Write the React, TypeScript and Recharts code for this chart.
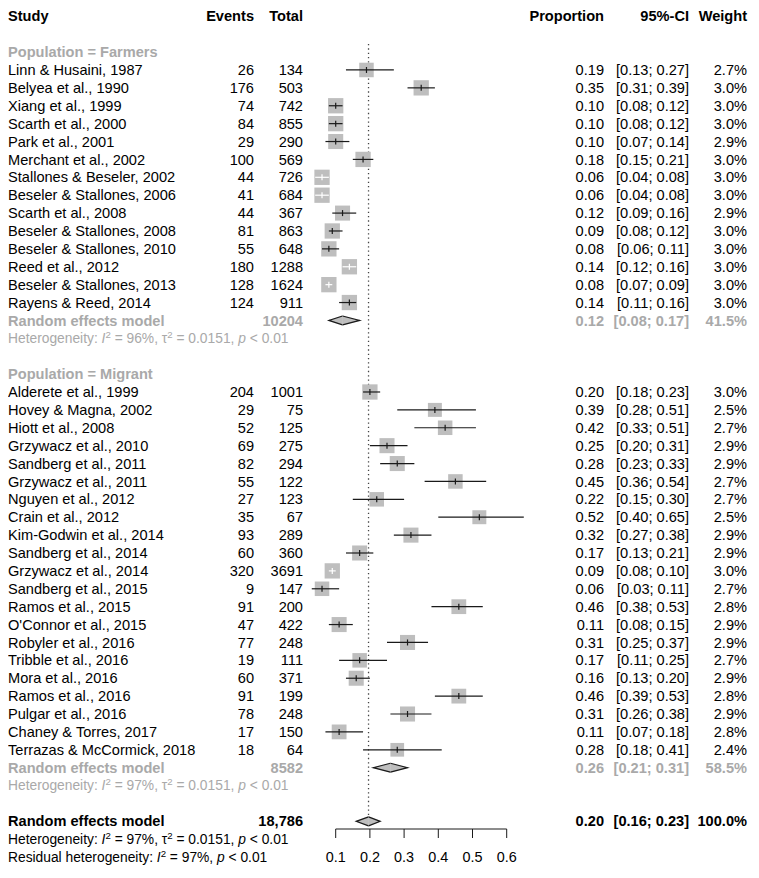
import React from "react";
import {
  ComposedChart,
  Scatter,
  XAxis,
  YAxis,
  ErrorBar,
  ReferenceLine,
  ReferenceArea,
  ReferenceDot,
} from "recharts";

// ---------------- data ----------------
const COLUMN_TITLES = ["Study", "Events", "Total", "Proportion", "95%-CI", "Weight"];

const FARMER_STUDIES = [
  "Linn & Husaini, 1987",
  "Belyea et al., 1990",
  "Xiang et al., 1999",
  "Scarth et al., 2000",
  "Park et al., 2001",
  "Merchant et al., 2002",
  "Stallones & Beseler, 2002",
  "Beseler & Stallones, 2006",
  "Scarth et al., 2008",
  "Beseler & Stallones, 2008",
  "Beseler & Stallones, 2010",
  "Reed et al., 2012",
  "Beseler & Stallones, 2013",
  "Rayens & Reed, 2014",
];
const FARMER_EVENTS = [26, 176, 74, 84, 29, 100, 44, 41, 44, 81, 55, 180, 128, 124];
const FARMER_TOTALS = [134, 503, 742, 855, 290, 569, 726, 684, 367, 863, 648, 1288, 1624, 911];
const FARMER_EST = [0.19, 0.35, 0.1, 0.1, 0.1, 0.18, 0.06, 0.06, 0.12, 0.09, 0.08, 0.14, 0.08, 0.14];
const FARMER_LOWER = [0.13, 0.31, 0.08, 0.08, 0.07, 0.15, 0.04, 0.04, 0.09, 0.08, 0.06, 0.12, 0.07, 0.11];
const FARMER_UPPER = [0.27, 0.39, 0.12, 0.12, 0.14, 0.21, 0.08, 0.08, 0.16, 0.12, 0.11, 0.16, 0.09, 0.16];
const FARMER_WEIGHT = [2.7, 3.0, 3.0, 3.0, 2.9, 3.0, 3.0, 3.0, 2.9, 3.0, 3.0, 3.0, 3.0, 3.0];

const MIGRANT_STUDIES = [
  "Alderete et al., 1999",
  "Hovey & Magna, 2002",
  "Hiott et al., 2008",
  "Grzywacz et al., 2010",
  "Sandberg et al., 2011",
  "Grzywacz et al., 2011",
  "Nguyen et al., 2012",
  "Crain et al., 2012",
  "Kim-Godwin et al., 2014",
  "Sandberg et al., 2014",
  "Grzywacz et al., 2014",
  "Sandberg et al., 2015",
  "Ramos et al., 2015",
  "O'Connor et al., 2015",
  "Robyler et al., 2016",
  "Tribble et al., 2016",
  "Mora et al., 2016",
  "Ramos et al., 2016",
  "Pulgar et al., 2016",
  "Chaney & Torres, 2017",
  "Terrazas & McCormick, 2018",
];
const MIGRANT_EVENTS = [204, 29, 52, 69, 82, 55, 27, 35, 93, 60, 320, 9, 91, 47, 77, 19, 60, 91, 78, 17, 18];
const MIGRANT_TOTALS = [1001, 75, 125, 275, 294, 122, 123, 67, 289, 360, 3691, 147, 200, 422, 248, 111, 371, 199, 248, 150, 64];
const MIGRANT_EST = [0.2, 0.39, 0.42, 0.25, 0.28, 0.45, 0.22, 0.52, 0.32, 0.17, 0.09, 0.06, 0.46, 0.11, 0.31, 0.17, 0.16, 0.46, 0.31, 0.11, 0.28];
const MIGRANT_LOWER = [0.18, 0.28, 0.33, 0.2, 0.23, 0.36, 0.15, 0.4, 0.27, 0.13, 0.08, 0.03, 0.38, 0.08, 0.25, 0.11, 0.13, 0.39, 0.26, 0.07, 0.18];
const MIGRANT_UPPER = [0.23, 0.51, 0.51, 0.31, 0.33, 0.54, 0.3, 0.65, 0.38, 0.21, 0.1, 0.11, 0.53, 0.15, 0.37, 0.25, 0.2, 0.53, 0.38, 0.18, 0.41];
const MIGRANT_WEIGHT = [3.0, 2.5, 2.7, 2.9, 2.9, 2.7, 2.7, 2.5, 2.9, 2.9, 3.0, 2.7, 2.8, 2.9, 2.9, 2.7, 2.9, 2.8, 2.9, 2.8, 2.4];

// CI drawn in white because it lies inside the square
const INSIDE_WHITE = [
  "Stallones & Beseler, 2002",
  "Beseler & Stallones, 2006",
  "Reed et al., 2012",
  "Beseler & Stallones, 2013",
  "Grzywacz et al., 2014",
];

const GROUP_LABELS = ["Population = Farmers", "Population = Migrant"];
const POOLED_LABEL = "Random effects model";
const POOLED_TOTAL = ["10204", "8582", "18,786"];
const POOLED_EST = [0.12, 0.26, 0.196];
const POOLED_LOWER = [0.08, 0.21, 0.16];
const POOLED_UPPER = [0.17, 0.31, 0.23];
const POOLED_WEIGHT = [41.5, 58.5, 100.0];
const HET_I2 = [96, 97, 97];
const HET_TAU2 = ["0.0151", "0.0151", "0.0151"];
const HET_P = ["< 0.01", "< 0.01", "< 0.01"];
const RESIDUAL_I2 = 97;
const RESIDUAL_P = "< 0.01";

const X_TICKS = [0.1, 0.2, 0.3, 0.4, 0.5, 0.6];

// ---------------- layout / style ----------------
const FONT = "'Liberation Sans', Arial, Helvetica, sans-serif";
const FS = 14.6;
const HET_FS = 13.8;
const BLACK = "#000000";
const GREY = "#a9a9a9";
const SQUARE_FILL = "#bebebe";
const LINE = "#1a1a1a";

const W = 751;
const H = 870;
const ROW_TOP = 8.3;
const ROW_H = 17.89;
const AXIS_Y = 821;
const Y_MAX = (AXIS_Y - ROW_TOP) / ROW_H;
const X_LEFT = 293.5;
const PX_PER_UNIT = 342;
const X_DOMAIN: [number, number] = [0, 0.7];
const MARGIN = {
  top: ROW_TOP,
  bottom: 0,
  left: X_LEFT,
  right: W - X_LEFT - (X_DOMAIN[1] - X_DOMAIN[0]) * PX_PER_UNIT,
};

const STUDY_X = 0;
const EVENTS_R = 246;
const TOTAL_R = 295;
const PROP_R = 596;
const CI_R = 681;
const WEIGHT_R = 739;

const fmtCI = (lo: number, hi: number) => `[${lo.toFixed(2)}; ${hi.toFixed(2)}]`;
const fmtW = (w: number) => `${w.toFixed(1)}%`;

// ---------------- build rows ----------------
type TextRow = {
  x: number;
  y: number;
  kind: "cells" | "het";
  color: string;
  bold: boolean;
  cells?: string[];
  prefix?: string;
  i2?: number;
  tau2?: string | null;
  p?: string;
};
type StudyPoint = { x: number; y: number; lo: number; hi: number; w: number; name: string; err: number[] };
type Pooled = { est: number; lo: number; hi: number; y: number };

const GROUPS = [
  {
    label: GROUP_LABELS[0],
    studies: FARMER_STUDIES,
    events: FARMER_EVENTS,
    totals: FARMER_TOTALS,
    est: FARMER_EST,
    lower: FARMER_LOWER,
    upper: FARMER_UPPER,
    weight: FARMER_WEIGHT,
  },
  {
    label: GROUP_LABELS[1],
    studies: MIGRANT_STUDIES,
    events: MIGRANT_EVENTS,
    totals: MIGRANT_TOTALS,
    est: MIGRANT_EST,
    lower: MIGRANT_LOWER,
    upper: MIGRANT_UPPER,
    weight: MIGRANT_WEIGHT,
  },
];

const textRows: TextRow[] = [];
const studyPoints: StudyPoint[] = [];
const pooledRows: Pooled[] = [];

textRows.push({ x: 0.35, y: 0, kind: "cells", color: BLACK, bold: true, cells: COLUMN_TITLES });

let r = 2;
GROUPS.forEach((g, gi) => {
  textRows.push({ x: 0.35, y: r, kind: "cells", color: GREY, bold: true, cells: [g.label, "", "", "", "", ""] });
  g.studies.forEach((name, i) => {
    const y = r + 1 + i;
    textRows.push({
      x: 0.35,
      y,
      kind: "cells",
      color: BLACK,
      bold: false,
      cells: [
        name,
        String(g.events[i]),
        String(g.totals[i]),
        g.est[i].toFixed(2),
        fmtCI(g.lower[i], g.upper[i]),
        fmtW(g.weight[i]),
      ],
    });
    studyPoints.push({
      x: g.est[i],
      y,
      lo: g.lower[i],
      hi: g.upper[i],
      w: g.weight[i],
      name,
      err: [g.est[i] - g.lower[i], g.upper[i] - g.est[i]],
    });
  });
  const ry = r + g.studies.length + 1;
  textRows.push({
    x: 0.35,
    y: ry,
    kind: "cells",
    color: GREY,
    bold: true,
    cells: [
      POOLED_LABEL,
      "",
      POOLED_TOTAL[gi],
      POOLED_EST[gi].toFixed(2),
      fmtCI(POOLED_LOWER[gi], POOLED_UPPER[gi]),
      fmtW(POOLED_WEIGHT[gi]),
    ],
  });
  pooledRows.push({ est: POOLED_EST[gi], lo: POOLED_LOWER[gi], hi: POOLED_UPPER[gi], y: ry });
  textRows.push({
    x: 0.35,
    y: ry + 1,
    kind: "het",
    color: GREY,
    bold: false,
    prefix: "Heterogeneity: ",
    i2: HET_I2[gi],
    tau2: HET_TAU2[gi],
    p: HET_P[gi],
  });
  r = r + g.studies.length + 4;
});

const OVERALL_ROW = r;
textRows.push({
  x: 0.35,
  y: OVERALL_ROW,
  kind: "cells",
  color: BLACK,
  bold: true,
  cells: [
    POOLED_LABEL,
    "",
    POOLED_TOTAL[2],
    POOLED_EST[2].toFixed(2),
    fmtCI(POOLED_LOWER[2], POOLED_UPPER[2]),
    fmtW(POOLED_WEIGHT[2]),
  ],
});
pooledRows.push({ est: POOLED_EST[2], lo: POOLED_LOWER[2], hi: POOLED_UPPER[2], y: OVERALL_ROW });

const footRows: TextRow[] = [
  {
    x: 0.35,
    y: OVERALL_ROW + 1,
    kind: "het",
    color: BLACK,
    bold: false,
    prefix: "Heterogeneity: ",
    i2: HET_I2[2],
    tau2: HET_TAU2[2],
    p: HET_P[2],
  },
  {
    x: 0.35,
    y: OVERALL_ROW + 2,
    kind: "het",
    color: BLACK,
    bold: false,
    prefix: "Residual heterogeneity: ",
    i2: RESIDUAL_I2,
    tau2: null,
    p: RESIDUAL_P,
  },
];

const blackCI = studyPoints.filter((s) => !INSIDE_WHITE.includes(s.name));
const whiteCI = studyPoints.filter((s) => INSIDE_WHITE.includes(s.name));

// ---------------- renderers ----------------
const squareSide = (w: number) => 15.3 * Math.sqrt(w / 3);

const renderSquare = (props: any) => {
  const { cx, cy, payload } = props;
  const s = squareSide(payload.w);
  return <rect x={cx - s / 2} y={cy - s / 2} width={s} height={s} fill={SQUARE_FILL} stroke="none" />;
};

const makeTick = (color: string) => (props: any) => {
  const { cx, cy } = props;
  return <line x1={cx} x2={cx} y1={cy - 3} y2={cy + 3} stroke={color} strokeWidth={1.2} />;
};

const renderHet = (cy: number, row: TextRow) => {
  const sup = HET_FS * 0.7;
  return (
    <text
      x={STUDY_X}
      y={cy + 0.35 * HET_FS}
      fontFamily={FONT}
      fontSize={HET_FS}
      fill={row.color}
    >
      <tspan>{row.prefix}</tspan>
      <tspan fontStyle="italic">I</tspan>
      <tspan dy={-5} fontSize={sup}>2</tspan>
      <tspan dy={5}>{` = ${row.i2}%, `}</tspan>
      {row.tau2 ? <tspan>{"\u03c4"}</tspan> : null}
      {row.tau2 ? <tspan dy={-5} fontSize={sup}>2</tspan> : null}
      {row.tau2 ? <tspan dy={5}>{` = ${row.tau2}, `}</tspan> : null}
      <tspan fontStyle="italic">p</tspan>
      <tspan>{` ${row.p}`}</tspan>
    </text>
  );
};

const renderTextRow = (cy: number, row: TextRow) => {
  if (row.kind === "het") return renderHet(cy, row);
  const c = row.cells || [];
  const base = cy + 0.35 * FS;
  return (
    <g fontFamily={FONT} fontSize={FS} fontWeight={row.bold ? 700 : 400} fill={row.color}>
      {c[0] ? <text x={STUDY_X} y={base}>{c[0]}</text> : null}
      {c[1] ? <text x={EVENTS_R} y={base} textAnchor="end">{c[1]}</text> : null}
      {c[2] ? <text x={TOTAL_R} y={base} textAnchor="end">{c[2]}</text> : null}
      {c[3] ? <text x={PROP_R} y={base} textAnchor="end">{c[3]}</text> : null}
      {c[4] ? <text x={CI_R} y={base} textAnchor="end">{c[4]}</text> : null}
      {c[5] ? <text x={WEIGHT_R} y={base} textAnchor="end">{c[5]}</text> : null}
    </g>
  );
};

const renderTextShape = (props: any) => renderTextRow(props.cy, props.payload as TextRow);

const leftHalf = (props: any) => {
  const { x, y, width, height } = props;
  const pts = `${x + width},${y} ${x},${y + height / 2} ${x + width},${y + height}`;
  return (
    <g>
      <polygon points={pts} fill={SQUARE_FILL} stroke={SQUARE_FILL} strokeWidth={0.4} />
      <polyline points={pts} fill="none" stroke={LINE} strokeWidth={1.2} />
    </g>
  );
};
const rightHalf = (props: any) => {
  const { x, y, width, height } = props;
  const pts = `${x},${y} ${x + width},${y + height / 2} ${x},${y + height}`;
  return (
    <g>
      <polygon points={pts} fill={SQUARE_FILL} stroke={SQUARE_FILL} strokeWidth={0.4} />
      <polyline points={pts} fill="none" stroke={LINE} strokeWidth={1.2} />
    </g>
  );
};

export default function App() {
  const ebZ: any = { zIndex: 700 };
  return (
    <ComposedChart width={W} height={H} margin={MARGIN}>
      <XAxis
        dataKey="x"
        type="number"
        domain={X_DOMAIN}
        ticks={X_TICKS}
        interval={0}
        axisLine={false}
        tickLine={{ stroke: LINE, strokeWidth: 1 }}
        tickSize={9}
        tickMargin={14}
        height={H - AXIS_Y}
        tick={{ fill: BLACK, fontSize: 14.4, fontFamily: FONT }}
        tickFormatter={(v: number) => v.toFixed(1)}
      />
      <YAxis dataKey="y" type="number" domain={[0, Y_MAX]} reversed hide />

      <ReferenceLine
        segment={[
          { x: POOLED_EST[2], y: 1.55 },
          { x: POOLED_EST[2], y: OVERALL_ROW - 0.3 },
        ]}
        stroke="#444"
        strokeWidth={1.3}
        strokeDasharray="1.3 3"
        ifOverflow="visible"
      />

      <Scatter data={studyPoints} shape={renderSquare} isAnimationActive={false} />
      <Scatter data={blackCI} shape={makeTick(LINE)} isAnimationActive={false} {...ebZ}>
        <ErrorBar dataKey="err" direction="x" width={0} stroke={LINE} strokeWidth={1.2} isAnimationActive={false} {...ebZ} />
      </Scatter>
      <Scatter data={whiteCI} shape={makeTick("#ffffff")} isAnimationActive={false} {...ebZ}>
        <ErrorBar dataKey="err" direction="x" width={0} stroke="#ffffff" strokeWidth={1.2} isAnimationActive={false} {...ebZ} />
      </Scatter>

      {pooledRows.map((p, i) => (
        <ReferenceArea
          key={`dl${i}`}
          x1={p.lo}
          x2={p.est}
          y1={p.y - 0.25}
          y2={p.y + 0.25}
          shape={leftHalf}
          ifOverflow="visible"
        />
      ))}
      {pooledRows.map((p, i) => (
        <ReferenceArea
          key={`dr${i}`}
          x1={p.est}
          x2={p.hi}
          y1={p.y - 0.25}
          y2={p.y + 0.25}
          shape={rightHalf}
          ifOverflow="visible"
        />
      ))}

      <Scatter data={textRows} shape={renderTextShape} isAnimationActive={false} />
      {footRows.map((row, i) => (
        <ReferenceDot
          key={`foot${i}`}
          x={row.x}
          y={row.y}
          r={0}
          ifOverflow="visible"
          shape={(props: any) => renderTextRow(props.cy, row)}
        />
      ))}

      <ReferenceLine
        segment={[
          { x: X_TICKS[0], y: Y_MAX },
          { x: X_TICKS[X_TICKS.length - 1], y: Y_MAX },
        ]}
        stroke={LINE}
        strokeWidth={1}
        ifOverflow="visible"
      />
    </ComposedChart>
  );
}
